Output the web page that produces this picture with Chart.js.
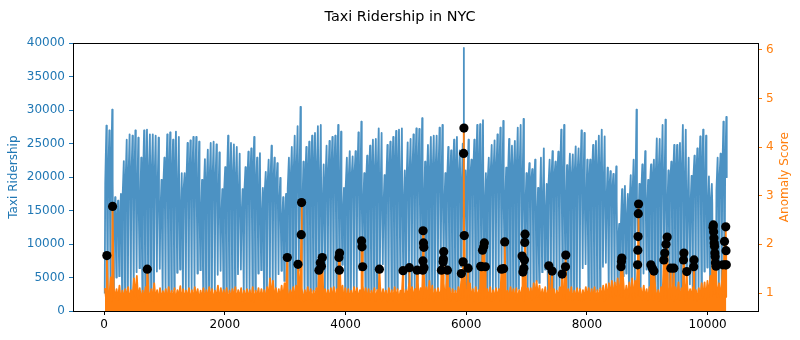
<!DOCTYPE html>
<html>
<head>
<meta charset="utf-8">
<script src="https://cdn.jsdelivr.net/npm/chart.js@4.4.1/dist/chart.umd.min.js"></script>
<style>
  html, body { margin: 0; padding: 0; background: #fff; }
</style>
</head>
<body>
<canvas id="taxiChart" width="800" height="340"></canvas>
<script>
// one value per day (48 half-hour steps per day)
const dayPeaks = [
  27700, 27000, 30100, 17000, 16500, 17500, 22400,
  25600, 26400, 26200, 27000, 25900, 22900, 27000,
  27100, 26400, 26400, 26200, 25900, 19600, 22900,
  26400, 26700, 25600, 26800, 26000, 20600, 20600,
  25100, 25500, 26000, 26000, 25300, 19600, 22700,
  24100, 25100, 25300, 24900, 23700, 18200, 21500,
  26200, 25100, 24900, 24500, 23500, 18200, 21500,
  23800, 24300, 26000, 22900, 23600, 18400, 20800,
  22600, 24700, 22900, 22100, 19900, 17000, 17500,
  22900, 24500, 26200, 27600, 30500, 22300, 24500,
  25300, 26200, 26600, 27600, 27800, 21900, 24700,
  25400, 26000, 26200, 27800, 26800, 18400, 22900,
  23900, 23100, 23900, 26700, 28300, 20600, 23200,
  24700, 25600, 25700, 27300, 26600, 20300, 24800,
  25300, 26000, 26900, 27100, 27300, 21000, 25200,
  25700, 26400, 27300, 27200, 28800, 22300, 24800,
  26000, 26200, 26200, 27400, 27800, 20600, 24500,
  24000, 25600, 26000, 24000, 25000, 21000, 25600,
  22600, 25600, 27800, 27900, 28500, 20600, 22900,
  24800, 25500, 26400, 27400, 28400, 21400, 25700,
  24700, 25400, 27400, 27800, 28700, 20600, 22100,
  21200, 22600, 18400, 22900, 24300, 19000, 22600,
  23900, 22300, 23800, 27100, 27800, 21800, 23500,
  23400, 24600, 24300, 27000, 26600, 22600, 22600,
  24800, 25400, 26200, 27100, 26100, 21400, 20900,
  20500, 21600, 13000, 18200, 18700, 17500, 20300,
  22600, 30100, 19000, 21900, 23900, 19600, 21900,
  22600, 25800, 25700, 27800, 28600, 21000, 22300,
  24800, 24800, 25100, 27800, 27100, 22900, 20200,
  23200, 24300, 26100, 27100, 26200, 20100, 19000,
  9000, 22900, 23500, 28300, 29000
];

// daytime level each day (morning rise and late evening)
const dayShoulders = [
  19000, 19300, 19500, 12500, 13000, 12500, 17000,
  18700, 19100, 19400, 18900, 16000, 14000, 18300,
  19100, 19400, 19600, 19000, 16300, 13700, 18100,
  18900, 19300, 19200, 18800, 15700, 13500, 17700,
  18800, 19000, 19100, 18700, 15500, 13300, 17500,
  18500, 18900, 18800, 18400, 15300, 13000, 17400,
  18900, 19100, 19000, 18500, 15500, 13100, 17500,
  18700, 19000, 19200, 18300, 15100, 12900, 17300,
  18500, 18800, 18600, 18000, 14700, 12500, 13000,
  18300, 19300, 19700, 19900, 17300, 14300, 18500,
  19300, 19700, 19900, 19800, 16500, 14500, 18800,
  19500, 19800, 20000, 19600, 16000, 14000, 18300,
  19100, 19400, 19700, 19500, 16700, 14700, 18500,
  19300, 19600, 19800, 19500, 16300, 14500, 18700,
  19500, 19800, 20000, 19700, 16500, 14800, 18900,
  19600, 19900, 20100, 19900, 17000, 15000, 19000,
  19700, 20000, 20200, 19900, 16900, 14700, 18800,
  19500, 19700, 19800, 19500, 16500, 15500, 19100,
  19700, 20000, 20200, 19900, 16300, 14900, 19000,
  19800, 20100, 20300, 20000, 16700, 15100, 19300,
  19900, 20200, 20300, 20000, 16500, 14800, 18700,
  19100, 18500, 11500, 14500, 15000, 13500, 18500,
  19300, 19500, 19800, 19600, 16500, 14700, 18800,
  19500, 19700, 19900, 19700, 16700, 15000, 18900,
  19600, 19800, 20000, 19800, 17000, 15300, 18000,
  17500, 16500, 9500, 12500, 13500, 13000, 16000,
  17000, 16500, 11500, 17000, 18000, 14000, 18300,
  19100, 19500, 19700, 19500, 16500, 14500, 18700,
  19300, 19600, 19800, 19600, 16700, 14700, 15000,
  19400, 19700, 19900, 19700, 16800, 14900, 16000,
  5000, 18000, 19300, 19700, 20000
];

const dayTroughs = [
  2600, 2800, 2900, 3200, 5000, 5200, 2500,
  2700, 2800, 2900, 3100, 5800, 6400, 2500,
  2600, 2900, 3000, 3100, 5900, 6300, 2400,
  2700, 2800, 2900, 3200, 5700, 6200, 2500,
  2600, 2800, 3000, 3100, 5600, 6100, 2400,
  2500, 2700, 2800, 3000, 5400, 6000, 2300,
  2600, 2800, 2900, 3100, 5500, 6200, 2500,
  2500, 2700, 2900, 3000, 5600, 6100, 2400,
  2600, 2800, 2900, 3000, 5500, 6000, 4500,
  2300, 2700, 2900, 3100, 6000, 6800, 2600,
  2700, 2900, 3000, 3200, 6200, 6700, 2500,
  2700, 2800, 3000, 3300, 6300, 6900, 2600,
  2600, 2900, 3000, 3200, 6100, 6600, 2500,
  2700, 2900, 3100, 3300, 6400, 7000, 2600,
  2800, 3000, 3100, 3300, 6300, 6800, 2600,
  2700, 2900, 3000, 3200, 6500, 7100, 2700,
  2800, 3000, 3100, 3300, 6400, 6900, 2600,
  2700, 2900, 3000, 3200, 6600, 7500, 2600,
  2600, 2800, 3000, 3200, 6200, 6800, 2500,
  2700, 2900, 3000, 3300, 6400, 7000, 2600,
  2700, 2900, 3100, 3300, 6500, 7100, 2600,
  2700, 3000, 4500, 4200, 5800, 6200, 2400,
  2600, 2800, 3000, 3200, 6200, 6800, 2500,
  2700, 2900, 3000, 3300, 6400, 7000, 2600,
  2700, 2900, 3100, 3400, 6600, 7200, 2800,
  2900, 3200, 4000, 3600, 5200, 5600, 2600,
  2800, 3100, 11000, 3500, 5600, 6200, 2400,
  2300, 2600, 2800, 3000, 5800, 6400, 2400,
  2500, 2700, 2900, 3100, 6000, 6600, 4000,
  2400, 2700, 2900, 3100, 5900, 6500, 2800,
  300, 1500, 2600, 2900, 3100
];

// isolated ridership spikes [half-hour index, riders]
const ridershipSpikes = [[5960, 39300]];

// anomaly score: daily high and low of the background noise
const scoreHigh = [
  1.10, 1.05, 1.32, 1.12, 1.08, 1.15, 1.05,
  1.08, 1.12, 1.06, 1.30, 1.35, 1.10, 1.05,
  1.12, 1.05, 1.08, 1.20, 1.06, 1.10, 1.04,
  1.08, 1.12, 1.05, 1.10, 1.06, 1.14, 1.08,
  1.05, 1.10, 1.06, 1.12, 1.08, 1.05, 1.10,
  1.06, 1.12, 1.08, 1.05, 1.15, 1.10, 1.06,
  1.10, 1.05, 1.08, 1.12, 1.06, 1.10, 1.05,
  1.08, 1.06, 1.12, 1.05, 1.10, 1.08, 1.06,
  1.12, 1.30, 1.25, 1.10, 1.08, 1.15, 1.20,
  1.10, 1.06, 1.12, 1.15, 1.25, 1.10, 1.06,
  1.12, 1.08, 1.05, 1.10, 1.22, 1.20, 1.08,
  1.06, 1.10, 1.12, 1.08, 1.28, 1.15, 1.10,
  1.08, 1.05, 1.12, 1.10, 1.06, 1.15, 1.10,
  1.08, 1.05, 1.10, 1.06, 1.12, 1.08, 1.05,
  1.10, 1.06, 1.12, 1.08, 1.05, 1.10, 1.06,
  1.20, 1.12, 1.08, 1.22, 1.10, 1.06, 1.12,
  1.25, 1.15, 1.08, 1.10, 1.06, 1.20, 1.28,
  1.10, 1.08, 1.05, 1.12, 1.25, 1.15, 1.10,
  1.20, 1.08, 1.12, 1.06, 1.10, 1.15, 1.08,
  1.12, 1.06, 1.10, 1.08, 1.22, 1.10, 1.05,
  1.12, 1.08, 1.10, 1.06, 1.12, 1.08, 1.10,
  1.10, 1.20, 1.25, 1.15, 1.08, 1.12, 1.06,
  1.10, 1.08, 1.05, 1.12, 1.06, 1.10, 1.08,
  1.12, 1.05, 1.10, 1.08, 1.06, 1.12, 1.10,
  1.08, 1.12, 1.06, 1.10, 1.15, 1.18, 1.20,
  1.25, 1.22, 1.30, 1.28, 1.20, 1.15, 1.22,
  1.30, 1.25, 1.12, 1.10, 1.15, 1.08, 1.12,
  1.20, 1.10, 1.06, 1.12, 1.25, 1.15, 1.10,
  1.08, 1.12, 1.22, 1.10, 1.20, 1.15, 1.08,
  1.12, 1.06, 1.10, 1.20, 1.22, 1.25, 1.35,
  1.30, 1.28, 1.20, 1.25, 1.30
];

const scoreLow = [
  0.85, 0.88, 0.82, 0.90, 0.86, 0.84, 0.88,
  0.90, 0.84, 0.87, 0.92, 0.88, 0.85, 0.83,
  0.86, 0.90, 0.84, 0.88, 0.82, 0.87, 0.90,
  0.84, 0.88, 0.86, 0.83, 0.90, 0.85, 0.87,
  0.88, 0.83, 0.86, 0.90, 0.84, 0.88, 0.85,
  0.86, 0.90, 0.84, 0.87, 0.82, 0.88, 0.86,
  0.83, 0.87, 0.90, 0.85, 0.88, 0.84, 0.86,
  0.88, 0.85, 0.83, 0.89, 0.86, 0.90, 0.84,
  0.86, 0.92, 0.88, 0.84, 0.87, 0.85, 0.90,
  0.84, 0.88, 0.86, 0.90, 0.88, 0.83, 0.87,
  0.89, 0.85, 0.87, 0.84, 0.90, 0.86, 0.88,
  0.85, 0.88, 0.83, 0.87, 0.90, 0.86, 0.84,
  0.88, 0.84, 0.90, 0.86, 0.83, 0.88, 0.85,
  0.86, 0.89, 0.84, 0.88, 0.85, 0.90, 0.83,
  0.87, 0.85, 0.88, 0.84, 0.90, 0.86, 0.88,
  0.84, 0.90, 0.86, 0.88, 0.83, 0.87, 0.85,
  0.88, 0.84, 0.87, 0.90, 0.86, 0.85, 0.89,
  0.85, 0.88, 0.84, 0.86, 0.90, 0.87, 0.83,
  0.89, 0.85, 0.88, 0.84, 0.87, 0.90, 0.86,
  0.84, 0.87, 0.90, 0.85, 0.88, 0.83, 0.87,
  0.88, 0.86, 0.84, 0.89, 0.85, 0.88, 0.90,
  0.86, 0.90, 0.92, 0.88, 0.85, 0.87, 0.84,
  0.87, 0.84, 0.88, 0.86, 0.90, 0.85, 0.88,
  0.85, 0.88, 0.86, 0.83, 0.87, 0.90, 0.86,
  0.88, 0.85, 0.87, 0.90, 0.84, 0.88, 0.92,
  0.90, 0.94, 0.95, 0.92, 0.88, 0.90, 0.86,
  0.88, 0.92, 0.95, 0.86, 0.89, 0.85, 0.88,
  0.86, 0.88, 0.84, 0.87, 0.90, 0.85, 0.88,
  0.85, 0.89, 0.86, 0.88, 0.84, 0.90, 0.92,
  0.87, 0.85, 0.88, 0.90, 0.86, 0.92, 0.95,
  0.98, 0.92, 0.90, 0.88, 0.92
];

// flagged anomalies [half-hour index, anomaly score]
const anomalies = [
  [45, 1.77], [140, 2.78], [715, 1.49],
  [3035, 1.73], [3212, 1.59], [3266, 2.20], [3272, 2.86],
  [3560, 1.47], [3582, 1.62], [3600, 1.55], [3615, 1.73],
  [3891, 1.73], [3897, 1.47], [3902, 1.82],
  [4266, 2.07], [4273, 1.95], [4284, 1.54],
  [4561, 1.49], [4953, 1.46], [5058, 1.52], [5186, 1.47],
  [5280, 1.47], [5283, 1.66], [5285, 2.28], [5292, 2.03], [5297, 1.94], [5300, 1.52],
  [5589, 1.47], [5617, 1.64], [5622, 1.70], [5627, 1.85], [5688, 1.47],
  [5920, 1.40], [5948, 1.64], [5957, 3.87], [5962, 4.39], [5968, 2.18], [6031, 1.51],
  [6240, 1.55], [6252, 1.54], [6270, 1.88], [6290, 1.95], [6300, 2.03], [6318, 1.54],
  [6584, 1.49], [6620, 1.50], [6638, 2.05],
  [6926, 1.76], [6940, 1.43], [6955, 1.51], [6965, 1.68], [6970, 2.04], [6975, 2.21],
  [7368, 1.56], [7424, 1.45], [7590, 1.39], [7645, 1.54], [7650, 1.78],
  [8565, 1.54], [8572, 1.65], [8578, 1.72],
  [8840, 1.58], [8844, 1.88], [8848, 2.16], [8852, 2.63], [8856, 2.83],
  [9060, 1.58], [9085, 1.51], [9110, 1.45],
  [9275, 1.68], [9290, 1.82], [9310, 2.00], [9330, 2.15], [9390, 1.51], [9440, 1.51],
  [9600, 1.68], [9607, 1.82], [9655, 1.44], [9770, 1.54], [9775, 1.68],
  [10090, 2.35], [10095, 2.40], [10100, 2.26], [10105, 2.13], [10110, 2.03],
  [10115, 1.96], [10120, 1.82], [10125, 1.75], [10130, 1.62], [10140, 1.55],
  [10250, 1.58], [10280, 2.06], [10292, 1.58], [10300, 2.36], [10305, 1.87], [10310, 1.58]
];

const xTicks = [0, 2000, 4000, 6000, 8000, 10000];
const ridershipTicks = [0, 5000, 10000, 15000, 20000, 25000, 30000, 35000, 40000];
const scoreTicks = [1, 2, 3, 4, 5, 6];

const BLUE = '#1f77b4';
const ORANGE = '#ff7f0e';
const STEPS_PER_DAY = 48;

// build the point lists (x = half-hour index)
// each day: night trough, morning level, evening peak, late evening level
const ridership = [];
dayPeaks.forEach((peak, d) => {
  const start = d * STEPS_PER_DAY;
  ridership.push({x: start + 10, y: dayTroughs[d]});
  ridership.push({x: start + 18, y: dayShoulders[d]});
  ridership.push({x: start + 38, y: peak});
  ridership.push({x: start + 45, y: dayShoulders[d]});
});
ridershipSpikes.forEach(([x, y]) => ridership.push({x, y}));
ridership.sort((a, b) => a.x - b.x);

const scores = [];
scoreHigh.forEach((hi, d) => {
  const start = d * STEPS_PER_DAY;
  scores.push({x: start + 14, y: hi});
  scores.push({x: start + 34, y: scoreLow[d]});
});
anomalies.forEach(([x, y]) => scores.push({x, y}));
scores.sort((a, b) => a.x - b.x);

const anomalyPoints = anomalies.map(([x, y]) => ({x, y}));

Chart.defaults.font.family = '"DejaVu Sans", sans-serif';
Chart.defaults.font.size = 12;
Chart.defaults.color = '#000';

// matplotlib puts the twin-axis label bottom-to-top, draw it that way
const rightAxisLabel = {
  id: 'rightAxisLabel',
  afterDraw(chart) {
    const {ctx, chartArea} = chart;
    ctx.save();
    ctx.translate(784.5, (chartArea.top + chartArea.bottom) / 2);
    ctx.rotate(-Math.PI / 2);
    ctx.font = '12px "DejaVu Sans", sans-serif';
    ctx.fillStyle = ORANGE;
    ctx.textAlign = 'center';
    ctx.textBaseline = 'middle';
    ctx.fillText('Anomaly Score', 0, 0);
    ctx.restore();
  }
};

const plainLabel = (v) => String(v);

new Chart(document.getElementById('taxiChart'), {
  type: 'line',
  data: {
    datasets: [
      {
        type: 'scatter',
        label: 'Anomalies',
        data: anomalyPoints,
        yAxisID: 'y2',
        pointRadius: 4.6,
        pointBackgroundColor: '#000',
        pointBorderWidth: 0,
        showLine: false,
        order: 1
      },
      {
        label: 'Anomaly Score',
        data: scores,
        yAxisID: 'y2',
        borderColor: ORANGE,
        backgroundColor: ORANGE,
        borderWidth: 1.8,
        borderJoinStyle: 'round',
        pointRadius: 0,
        tension: 0,
        fill: 'start',
        order: 2
      },
      {
        label: 'Taxi Ridership',
        data: ridership,
        yAxisID: 'y',
        borderColor: 'rgba(31,119,180,0.8)',
        borderWidth: 1.8,
        borderJoinStyle: 'round',
        pointRadius: 0,
        tension: 0,
        fill: false,
        order: 3
      }
    ]
  },
  options: {
    responsive: false,
    maintainAspectRatio: false,
    animation: false,
    events: [],
    layout: { padding: 0 },
    plugins: {
      legend: { display: false },
      tooltip: { enabled: false },
      title: {
        display: true,
        text: 'Taxi Ridership in NYC',
        color: '#000',
        font: { size: 14.4, weight: 'normal' },
        padding: { top: 8.5, bottom: 17.5 }
      }
    },
    scales: {
      x: {
        type: 'linear',
        position: 'bottom',
        min: -516,
        max: 10835,
        afterBuildTicks: (s) => { s.ticks = xTicks.map(v => ({value: v})); },
        afterFit: (s) => { s.height = 29; },
        ticks: { color: '#000', padding: 3, maxRotation: 0, callback: plainLabel },
        grid: { display: true, drawOnChartArea: false, drawTicks: true, tickLength: 4, tickColor: '#000' },
        border: { display: true, color: '#000', width: 1 }
      },
      xTop: {
        type: 'linear',
        position: 'top',
        min: -516,
        max: 10835,
        afterFit: (s) => { s.height = 0; },
        ticks: { display: false },
        grid: { display: false },
        border: { display: true, color: '#000', width: 1 }
      },
      y: {
        type: 'linear',
        position: 'left',
        min: 0,
        max: 40000,
        afterBuildTicks: (s) => { s.ticks = ridershipTicks.map(v => ({value: v})); },
        afterFit: (s) => { s.width = 73; },
        ticks: { color: BLUE, padding: 4, callback: plainLabel },
        grid: { display: true, drawOnChartArea: false, drawTicks: true, tickLength: 4, tickColor: BLUE },
        border: { display: true, color: '#000', width: 1 },
        title: {
          display: true,
          text: 'Taxi Ridership',
          color: BLUE,
          font: { size: 12 },
          padding: { top: 7, bottom: 0 }
        }
      },
      y2: {
        type: 'linear',
        position: 'right',
        min: 0.63,
        max: 6.134,
        afterBuildTicks: (s) => { s.ticks = scoreTicks.map(v => ({value: v})); },
        afterFit: (s) => { s.width = 42; },
        ticks: { color: ORANGE, padding: 4, callback: plainLabel },
        grid: { display: true, drawOnChartArea: false, drawTicks: true, tickLength: 4, tickColor: ORANGE },
        border: { display: true, color: '#000', width: 1 }
      }
    }
  },
  plugins: [rightAxisLabel]
});
</script>
</body>
</html>
